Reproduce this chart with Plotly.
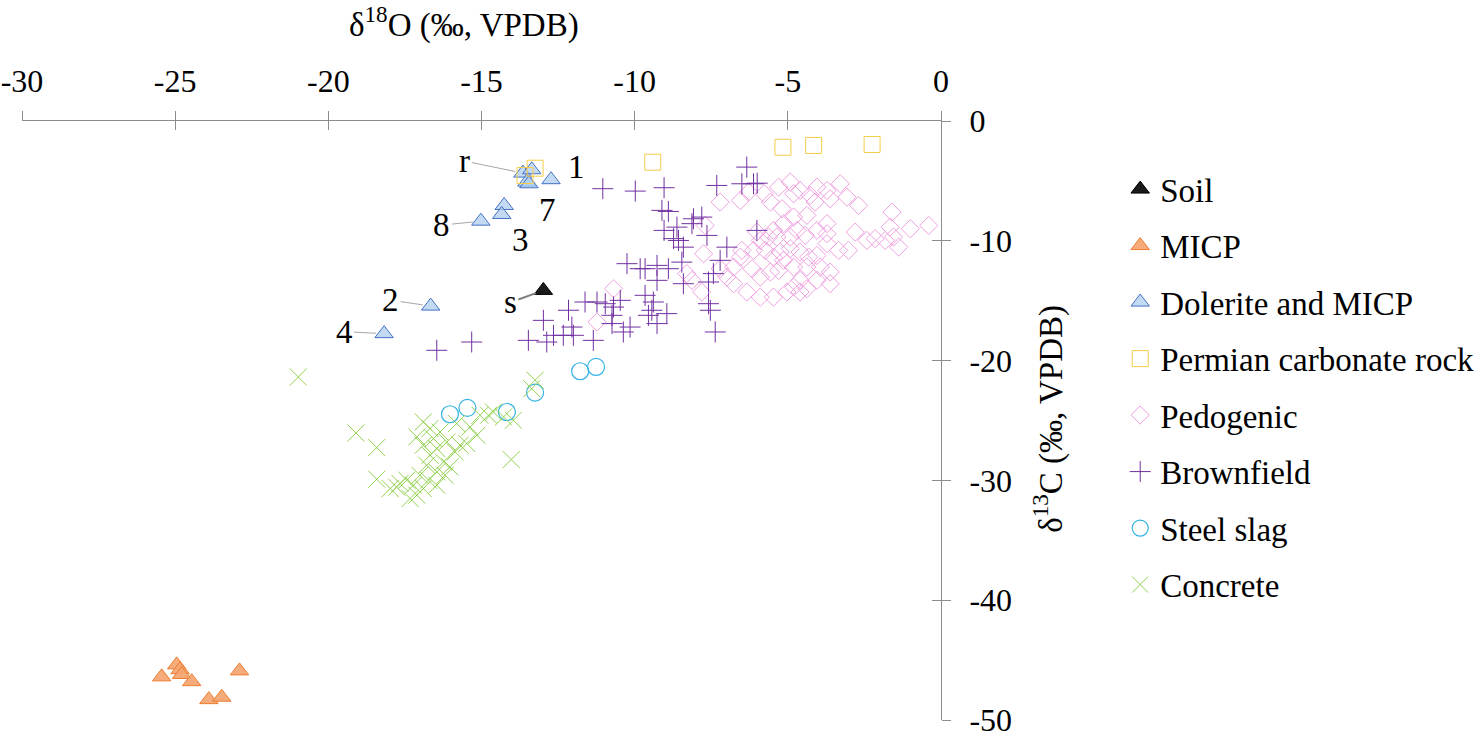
import plotly.graph_objects as go

# valores (δ18O no eixo x, δ13C no eixo y)
soil_x = [-12.98]
soil_y = [-14.14]

micp_x = [-25.44, -24.95, -24.84, -24.79, -24.46, -23.90, -23.48, -22.90]
micp_y = [-46.4, -45.4, -45.8, -46.2, -46.8, -48.3, -48.1, -45.9]

dolerite_x = [-13.65, -13.36, -13.52, -13.45, -12.73, -14.26, -14.34, -15.02, -16.66, -18.18]
dolerite_y = [-4.35, -4.07, -5.10, -5.24, -4.90, -7.05, -7.80, -8.36, -15.45, -17.75]

permian_x = [-13.58, -13.25, -9.41, -5.16, -4.16, -2.25]
permian_y = [-4.55, -3.94, -3.44, -2.19, -2.04, -1.96]

pedogenic_x = [-7.21, -6.55, -6.28, -5.77, -5.30, -4.92, -5.57, -5.19, -4.81, -4.60,
               -4.27, -4.05, -3.72, -3.29, -3.07, -2.69, -3.62, -4.11, -4.38, -4.81,
               -5.14, -4.70, -4.43, -4.05, -3.72, -3.72, -5.47, -5.63, -5.90, -6.01,
               -7.70, -1.60, -1.66, -1.00, -0.40, -1.38, -1.55, -1.82, -2.15, -2.42,
               -2.80, -3.02, -3.34, -3.72, -4.05, -4.32, -4.60, -4.92, -5.25, -5.47,
               -7.75, -6.50, -6.55, -6.17, -6.77, -5.90, -5.57, -5.30, -5.14, -4.81,
               -4.38, -3.94, -3.62, -3.62, -4.05, -4.60, -4.81, -4.60, -4.38, -5.03,
               -5.47, -5.90, -6.34, -6.77, -6.99, -7.21, -7.81, -8.13, -8.30, -10.69,
               -11.23, -6.12, -5.74, -5.36, -4.92]
pedogenic_y = [-6.77, -6.63, -5.94, -6.07, -5.52, -5.10, -6.77, -7.32, -6.07, -5.80,
               -6.21, -5.52, -5.80, -5.24, -6.36, -7.05, -6.49, -6.77, -7.88, -8.02,
               -8.57, -9.13, -9.55, -9.13, -9.41, -8.57, -9.13, -9.69, -9.97, -9.27,
               -8.72, -7.61, -8.86, -8.99, -8.72, -10.53, -9.69, -9.97, -9.82, -9.97,
               -9.27, -10.80, -10.80, -10.24, -11.22, -11.36, -10.94, -10.66, -10.94, -11.36,
               -11.08, -10.80, -11.36, -12.33, -12.19, -13.03, -12.61, -12.47, -11.63, -12.19,
               -12.19, -12.19, -12.61, -13.58, -13.30, -13.30, -13.86, -14.28, -14.00, -14.28,
               -14.70, -14.70, -14.28, -13.58, -13.03, -12.33, -14.28, -13.30, -12.74, -14.00,
               -16.78, -10.80, -10.80, -9.69, -9.69]

brown_x = [-16.46, -15.32, -13.47, -12.98, -12.87, -12.65, -12.33, -12.16, -12.05, -12.00,
           -11.62, -11.35, -11.23, -10.96, -10.74, -10.74, -10.69, -10.47, -10.37, -10.15,
           -11.04, -9.98, -9.04, -7.32, -6.34, -6.50, -6.12, -6.00, -9.11, -8.90,
           -9.04, -8.62, -8.73, -8.41, -8.08, -7.81, -7.64, -6.99, -7.21, -6.01,
           -10.25, -9.82, -9.66, -9.27, -9.27, -8.90, -8.46, -8.41, -7.43, -7.59,
           -9.66, -9.39, -9.44, -9.55, -9.27, -8.95, -7.59, -7.53, -7.37, -8.13,
           -8.57]
brown_y = [-19.14, -18.45, -18.31, -16.64, -18.45, -17.89, -17.89, -15.80, -17.20, -17.89,
           -15.11, -18.31, -15.11, -15.25, -16.22, -16.91, -15.53, -14.97, -17.61, -17.20,
           -5.65, -5.85, -5.57, -5.38, -3.85, -5.24, -5.24, -5.19, -7.46, -7.55,
           -9.13, -8.86, -9.82, -10.53, -8.16, -8.02, -9.55, -10.53, -11.63, -9.13,
           -11.91, -12.33, -12.33, -12.05, -13.30, -12.33, -11.78, -13.58, -12.74, -13.44,
           -14.55, -15.11, -15.80, -16.22, -16.91, -16.08, -15.25, -15.80, -17.61, -8.57,
           -9.97]

steel_x = [-16.03, -15.46, -14.17, -13.25, -11.78, -11.26]
steel_y = [-24.48, -23.95, -24.29, -22.67, -20.89, -20.53]

concrete_x = [-20.98, -19.10, -18.42, -18.42, -14.03, -13.25, -13.36, -14.61, -14.77, -15.05,
              -14.28, -13.96, -15.81, -15.37, -15.15, -15.48, -15.70, -15.86, -16.90, -16.68,
              -17.11, -16.57, -16.35, -16.13, -16.90, -16.46, -16.68, -16.24, -16.79, -16.46,
              -16.03, -17.01, -16.73, -17.44, -17.66, -17.22, -16.90, -16.46, -16.19, -17.11,
              -17.33, -17.98, -17.77]
concrete_y = [-21.37, -26.04, -27.26, -29.90, -28.26, -21.64, -22.34, -24.29, -24.56, -24.56,
              -24.70, -24.98, -25.25, -25.54, -26.23, -26.92, -27.06, -27.62, -25.12, -25.67,
              -26.37, -26.51, -25.96, -26.79, -27.06, -27.34, -27.90, -28.46, -28.73, -29.29,
              -28.87, -29.57, -29.98, -29.98, -30.26, -30.40, -30.68, -30.40, -29.57, -31.23,
              -31.51, -30.68, -30.57]

x_ticks = [-30, -25, -20, -15, -10, -5, 0]
x_labels = ["-30", "-25", "-20", "-15", "-10", "-5", "0"]
y_ticks = [0, -10, -20, -30, -40, -50]
y_labels = ["0", "-10", "-20", "-30", "-40", "-50"]

FONTE = "Liberation Serif"
TAM = 33

fig = go.Figure()

series = [
    ("Soil", soil_x, soil_y, dict(symbol="triangle-up", size=16, color="#1a1a1a",
                                  line=dict(color="#000000", width=1))),
    ("MICP", micp_x, micp_y, dict(symbol="triangle-up", size=16, color="rgba(244,166,115,0.95)",
                                  line=dict(color="#ED7D31", width=1))),
    ("Dolerite and MICP", dolerite_x, dolerite_y,
     dict(symbol="triangle-up", size=16, color="rgba(175,205,238,0.75)",
          line=dict(color="#4472C4", width=1))),
    ("Permian carbonate rock", permian_x, permian_y,
     dict(symbol="square-open", size=16, color="#F5CD4B", line=dict(width=1))),
    ("Pedogenic", pedogenic_x, pedogenic_y,
     dict(symbol="diamond-open", size=14, color="#EFA0DF", line=dict(width=1))),
    ("Brownfield", brown_x, brown_y,
     dict(symbol="cross-thin-open", size=15, color="#7030A0", line=dict(width=1))),
    ("Steel slag", steel_x, steel_y,
     dict(symbol="circle-open", size=17, color="#33B3E3", line=dict(width=1.2))),
    ("Concrete", concrete_x, concrete_y,
     dict(symbol="x-thin-open", size=17, color="#92D050", line=dict(width=1))),
]

for nome, xs, ys, mk in series:
    fig.add_trace(go.Scatter(
        x=xs, y=ys, mode="markers", name=nome, marker=mk,
        legendgroup=nome, hoverinfo="x+y+name"
    ))

# eixo invisível só para os traços de escala "para dentro" (ticks cruzados)
fig.add_trace(go.Scatter(x=[], y=[], xaxis="x2", yaxis="y2", showlegend=False))

# rótulos das amostras
rotulos_seta = [
    ("r", dolerite_x[0], dolerite_y[0], -58, -12, "#A6A6A6", 1),
    ("8", dolerite_x[7], dolerite_y[7], -39, 4, "#A6A6A6", 1),
    ("2", dolerite_x[8], dolerite_y[8], -40, -6, "#A6A6A6", 1),
    ("4", dolerite_x[9], dolerite_y[9], -40, -2, "#A6A6A6", 1),
    ("s", soil_x[0], soil_y[0], -33, 12, "#7F7F7F", 2),
]
for txt, px, py, ax, ay, cor, lw in rotulos_seta:
    fig.add_annotation(x=px, y=py, text=txt, showarrow=True, ax=ax, ay=ay,
                       arrowhead=0, arrowwidth=lw, arrowcolor=cor, standoff=8,
                       font=dict(family=FONTE, size=TAM, color="black"))

rotulos = [("1", -11.91, -3.88), ("7", -12.83, -7.46), ("3", -13.72, -9.97)]
for txt, px, py in rotulos:
    fig.add_annotation(x=px, y=py, text=txt, showarrow=False,
                       font=dict(family=FONTE, size=TAM, color="black"))

# títulos dos eixos
fig.add_annotation(xref="paper", yref="paper", x=0.481, y=1.165,
                   xanchor="center", yanchor="middle",
                   text="δ<sup>18</sup>O (‰, VPDB)", showarrow=False,
                   font=dict(family=FONTE, size=TAM, color="black"))
fig.add_annotation(xref="paper", yref="paper", x=1.117, y=0.502, textangle=-90,
                   xanchor="center", yanchor="middle",
                   text="δ<sup>13</sup>C (‰, VPDB)", showarrow=False,
                   font=dict(family=FONTE, size=TAM, color="black"))

eixo = dict(showgrid=False, zeroline=False, showline=True, linecolor="#8C8C8C",
            linewidth=1, ticks="outside", ticklen=9, tickcolor="#8C8C8C", tickwidth=1,
            tickfont=dict(family=FONTE, size=32, color="black"),
            ticklabeloverflow="allow", tickmode="array")

fig.update_layout(
    width=1477, height=742,
    margin=dict(l=22, r=536, t=121, b=22, autoexpand=False),
    paper_bgcolor="white", plot_bgcolor="white",
    font=dict(family=FONTE, size=TAM, color="black"),
    xaxis=dict(eixo, range=[-30, 0], side="top", tickvals=x_ticks, ticktext=x_labels,
               ticklabelstandoff=6),
    yaxis=dict(eixo, range=[-50, 0], side="right", tickvals=y_ticks, ticktext=y_labels,
               ticklabelstandoff=12),
    xaxis2=dict(range=[-30, 0], overlaying="x", side="top", anchor="y", tickmode="array",
                tickvals=x_ticks, ticks="inside", ticklen=9, tickcolor="#8C8C8C",
                showticklabels=False, showgrid=False, zeroline=False, showline=False),
    yaxis2=dict(range=[-50, 0], overlaying="y", side="right", anchor="x", tickmode="array",
                tickvals=y_ticks, ticks="inside", ticklen=9, tickcolor="#8C8C8C",
                showticklabels=False, showgrid=False, zeroline=False, showline=False),
    legend=dict(x=1.195, y=0.933, xanchor="left", yanchor="top", tracegroupgap=10.6,
                font=dict(family=FONTE, size=TAM, color="black"),
                bgcolor="rgba(0,0,0,0)"),
    showlegend=True,
)

# a página tem margem padrão de 8px no body; zera para alinhar com a janela
fig.write_html("out.html", config={"displayModeBar": False},
               post_script="document.body.style.margin='0';")
